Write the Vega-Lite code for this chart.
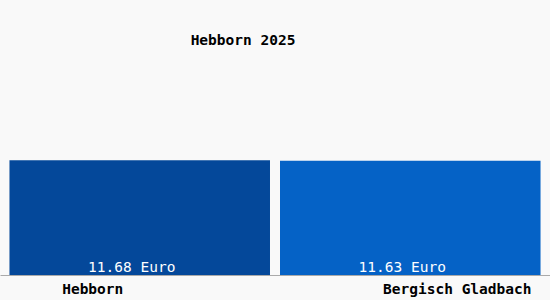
{
  "$schema": "https://vega.github.io/schema/vega-lite/v6.json",
  "autosize": "none",
  "width": 550,
  "height": 275,
  "padding": {"top": 0, "left": 0, "right": 0, "bottom": 25},
  "background": "#f9f9f9",
  "config": {"view": {"stroke": null}, "font": "DejaVu Sans Mono"},
  "title": {
    "text": "Hebborn 2025",
    "anchor": "middle",
    "font": "DejaVu Sans Mono",
    "fontSize": 14.5,
    "fontWeight": 600,
    "color": "#000000",
    "baseline": "alphabetic",
    "offset": 0,
    "dy": 59,
    "dx": -32
  },
  "data": {
    "values": [
      {"city": "Hebborn", "value": 11.68, "label": "11.68 Euro"},
      {"city": "Bergisch Gladbach", "value": 11.63, "label": "11.63 Euro"}
    ]
  },
  "encoding": {
    "x": {
      "field": "city",
      "type": "nominal",
      "sort": null,
      "scale": {"paddingInner": 0.037, "paddingOuter": 0.035},
      "axis": {
        "title": null,
        "labelAngle": 0,
        "ticks": false,
        "domainColor": "#aaaaaa",
        "domainWidth": 1,
        "labelFont": "DejaVu Sans Mono",
        "labelFontSize": 14.5,
        "labelFontWeight": 600,
        "labelColor": "#000000",
        "labelBaseline": "alphabetic",
        "labelPadding": 18,
        "labelOffset": {"condition": {"test": "datum.value == 'Hebborn'", "value": -47}, "value": 47}
      }
    }
  },
  "layer": [
    {
      "mark": {"type": "bar"},
      "encoding": {
        "y": {"field": "value", "type": "quantitative", "scale": {"domain": [0, 27.0]}, "axis": null},
        "color": {
          "field": "city",
          "type": "nominal",
          "sort": null,
          "scale": {"domain": ["Hebborn", "Bergisch Gladbach"], "range": ["#04489a", "#0562c6"]},
          "legend": null
        }
      }
    },
    {
      "mark": {"type": "text", "color": "#ffffff", "font": "DejaVu Sans Mono", "fontSize": 14.5, "baseline": "alphabetic", "dy": -3, "dx": -8},
      "encoding": {
        "y": {"datum": 0, "type": "quantitative"},
        "text": {"field": "label"}
      }
    }
  ]
}
